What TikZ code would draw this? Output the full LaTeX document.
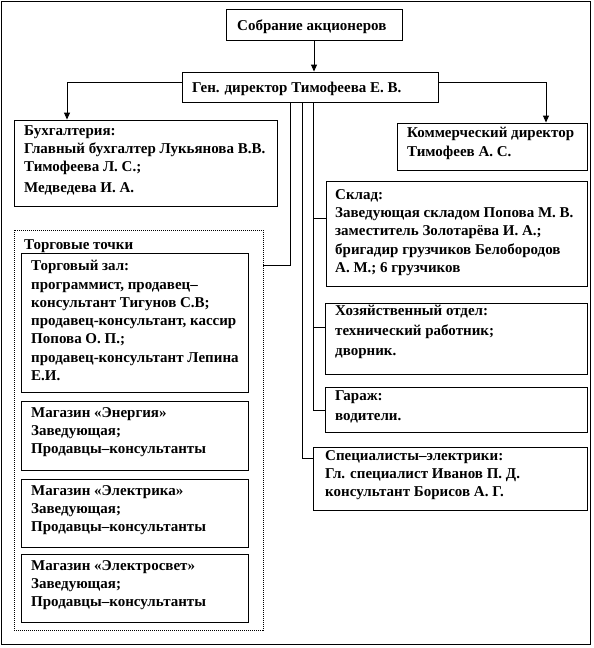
\documentclass[tikz,border=0pt]{standalone}
\usepackage{fontspec}
\setmainfont{Liberation Serif}
\usetikzlibrary{arrows.meta,fit}
\begin{document}
\begin{tikzpicture}[x=1pt,y=-1pt,
  box/.style={draw,line width=0.9pt,inner sep=0pt},
  dotbox/.style={draw,line width=0.9pt,dash pattern=on 1pt off 1pt,inner sep=0pt},
  txt/.style={anchor=north west,inner sep=0pt,align=left,yshift=12.81pt,
    font=\fontsize{15}{18.3}\selectfont\bfseries,execute at begin node=\strut},
  conn/.style={line width=0.9pt},
  arr/.style={conn,-{Triangle[width=6pt,length=7pt]}}]
\useasboundingbox (0,0) rectangle (594,648);
\draw[line width=1.2pt] (1.5,1.5) rectangle (590.5,644.5);
% boxes
\node[box,fit={(226,9) (402,40)}] (sob) {};
\node[box,fit={(182,72) (438,102)}] (gen) {};
\node[box,fit={(14,120) (277,206)}] (bux) {};
\node[box,fit={(397,123) (587,170)}] (kom) {};
\node[box,fit={(326,181) (587,286)}] (skl) {};
\node[box,fit={(325,303) (587,374)}] (hoz) {};
\node[box,fit={(325,387) (587,432)}] (gar) {};
\node[box,fit={(313,447) (587,510)}] (spec) {};
\node[dotbox,fit={(14,230) (263,630)}] (torg) {};
\node[box,fit={(21,253) (248,392)}] (zal) {};
\node[box,fit={(21,401) (248,470)}] (en) {};
\node[box,fit={(21,479) (248,547)}] (el) {};
\node[box,fit={(21,554) (248,622)}] (els) {};
% texts
\node[txt] (sobt) at (237,30) {Собрание акционеров};
\node[txt] (gent) at (192,92) {Ген. директор Тимофеева Е. В.};
\node[txt] (buxt) at (24,138) {Бухгалтерия:\\Главный бухгалтер Лукьянова В.В.\\Тимофеева Л. С.;\\[2pt]Медведева И. А.};
\node[txt] (komt) at (407,140) {Коммерческий директор\\Тимофеев А. С.};
\node[txt] (sklt) at (335,202) {Склад:\\Заведующая складом Попова М. В.\\заместитель Золотарёва И. А.;\\бригадир грузчиков Белобородов\\А. М.; 6 грузчиков};
\node[txt] (hozt) at (335,318) {Хозяйственный отдел:\\[1.6pt]технический работник;\\[1.6pt]дворник.};
\node[txt] (gart) at (335,403) {Гараж:\\[1.6pt]водители.};
\node[txt] (spect) at (325,463) {Специалисты–электрики:\\Гл. специалист Иванов П. Д.\\консультант Борисов А. Г.};
\node[txt] (torgt) at (24,249) {Торговые точки};
\node[txt] (zalt) at (31,273) {Торговый зал:\\программист, продавец–\\консультант Тигунов С.В;\\продавец-консультант, кассир\\Попова О. П.;\\продавец-консультант Лепина\\Е.И.};
\node[txt] (ent) at (31,420) {Магазин «Энергия»\\Заведующая;\\Продавцы–консультанты};
\node[txt] (elt) at (31,498) {Магазин «Электрика»\\Заведующая;\\Продавцы–консультанты};
\node[txt] (elst) at (31,573) {Магазин «Электросвет»\\Заведующая;\\Продавцы–консультанты};
% connectors
\coordinate (ba) at (67,0);
\coordinate (ka) at (546,0);
\draw[arr] (sob.south) -- (sob.south |- gen.north);
\draw[arr] ([yshift=5pt]gen.west) -| (bux.north -| ba);
\draw[arr] ([yshift=5pt]gen.east) -| (kom.north -| ka);
\coordinate (x1) at (290,265);
\draw[conn] (gen.south -| x1) |- (torg.east |- x1);
\coordinate (x2) at (302,458);
\draw[conn] (gen.south -| x2) |- (spec.west |- x2);
\coordinate (x3) at (313,410);
\draw[conn] (gen.south -| x3) |- (gar.west |- x3);
\coordinate (y1) at (313,218);
\draw[conn] (y1) -- (skl.west |- y1);
\coordinate (y2) at (313,327);
\draw[conn] (y2) -- (hoz.west |- y2);
\end{tikzpicture}
\end{document}
